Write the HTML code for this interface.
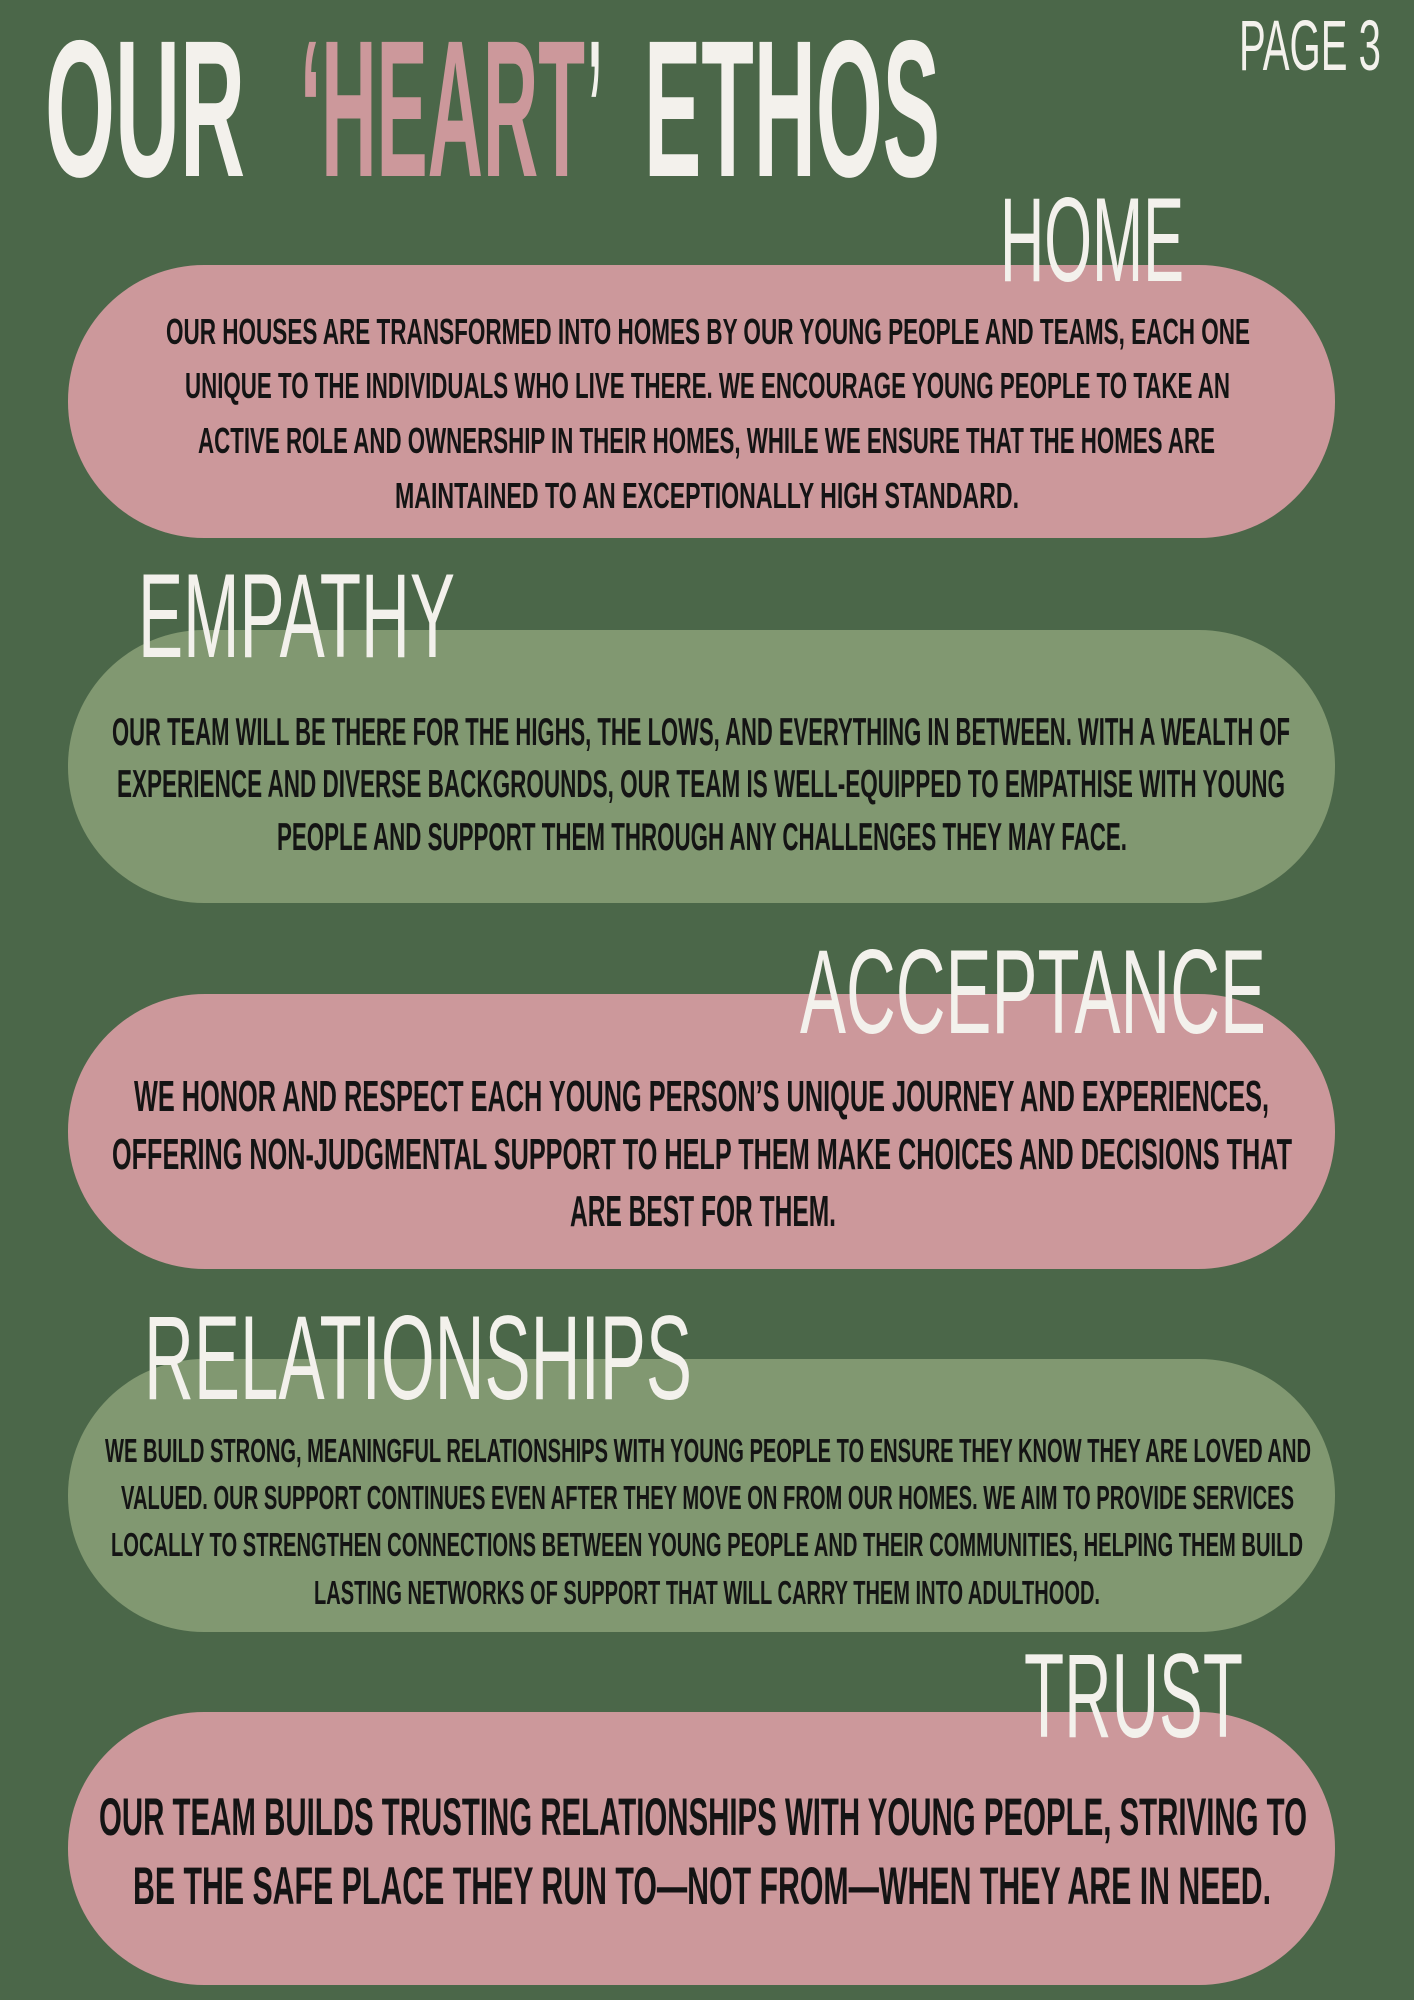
<!DOCTYPE html>
<html><head><meta charset="utf-8"><style>
html,body{margin:0;padding:0;background:#4b6749;}
svg{display:block}
text{font-family:"Liberation Sans Narrow","Liberation Sans",sans-serif;font-weight:bold;}
.h{fill:#f3f1ec}
.s{font-weight:normal}
.b{fill:#141414}
</style></head><body>
<svg width="1414" height="2000" viewBox="0 0 1414 2000" xmlns="http://www.w3.org/2000/svg">
<rect width="1414" height="2000" fill="#4b6749"/>
<rect x="68" y="265" width="1267" height="273" rx="136" fill="#cc989b"/>
<rect x="68" y="630" width="1267" height="273" rx="136" fill="#819871"/>
<rect x="68" y="994" width="1267" height="275" rx="137" fill="#cc989b"/>
<rect x="68" y="1359" width="1267" height="273" rx="136" fill="#819871"/>
<rect x="68" y="1712" width="1267" height="273" rx="136" fill="#cc989b"/>

<text class="h" x="45" y="176" font-size="195" textLength="200" lengthAdjust="spacingAndGlyphs">OUR</text>
<text x="300" y="176" font-size="195" fill="#cc989b" textLength="285" lengthAdjust="spacingAndGlyphs">‘HEART</text>
<text class="h" x="588" y="176" font-size="195" textLength="14" lengthAdjust="spacingAndGlyphs">’</text>
<text class="h" x="644" y="176" font-size="195" textLength="296" lengthAdjust="spacingAndGlyphs">ETHOS</text>
<text class="h s" x="1239" y="70" font-size="71" textLength="142" lengthAdjust="spacingAndGlyphs">PAGE 3</text>

<text class="h s" x="1000" y="281" font-size="120" textLength="184" lengthAdjust="spacingAndGlyphs">HOME</text>
<text class="h s" x="138" y="657" font-size="120" textLength="317" lengthAdjust="spacingAndGlyphs">EMPATHY</text>
<text class="h s" x="800" y="1033" font-size="120" textLength="466" lengthAdjust="spacingAndGlyphs">ACCEPTANCE</text>
<text class="h s" x="144" y="1399" font-size="120" textLength="548" lengthAdjust="spacingAndGlyphs">RELATIONSHIPS</text>
<text class="h s" x="1024" y="1737" font-size="120" textLength="219" lengthAdjust="spacingAndGlyphs">TRUST</text>

<g class="b">
<text class="b" x="166" y="344" font-size="36" textLength="1084" lengthAdjust="spacingAndGlyphs">OUR HOUSES ARE TRANSFORMED INTO HOMES BY OUR YOUNG PEOPLE AND TEAMS, EACH ONE</text>
<text class="b" x="185" y="398" font-size="36" textLength="1045" lengthAdjust="spacingAndGlyphs">UNIQUE TO THE INDIVIDUALS WHO LIVE THERE. WE ENCOURAGE YOUNG PEOPLE TO TAKE AN</text>
<text class="b" x="198" y="453" font-size="36" textLength="1017" lengthAdjust="spacingAndGlyphs">ACTIVE ROLE AND OWNERSHIP IN THEIR HOMES, WHILE WE ENSURE THAT THE HOMES ARE</text>
<text class="b" x="395" y="508" font-size="36" textLength="624" lengthAdjust="spacingAndGlyphs">MAINTAINED TO AN EXCEPTIONALLY HIGH STANDARD.</text>

<text class="b" x="112" y="745" font-size="39" textLength="1178" lengthAdjust="spacingAndGlyphs">OUR TEAM WILL BE THERE FOR THE HIGHS, THE LOWS, AND EVERYTHING IN BETWEEN. WITH A WEALTH OF</text>
<text class="b" x="117" y="797" font-size="39" textLength="1168" lengthAdjust="spacingAndGlyphs">EXPERIENCE AND DIVERSE BACKGROUNDS, OUR TEAM IS WELL-EQUIPPED TO EMPATHISE WITH YOUNG</text>
<text class="b" x="277" y="850" font-size="39" textLength="850" lengthAdjust="spacingAndGlyphs">PEOPLE AND SUPPORT THEM THROUGH ANY CHALLENGES THEY MAY FACE.</text>

<text class="b" x="134" y="1111" font-size="44" textLength="1135" lengthAdjust="spacingAndGlyphs">WE HONOR AND RESPECT EACH YOUNG PERSON’S UNIQUE JOURNEY AND EXPERIENCES,</text>
<text class="b" x="112" y="1169" font-size="44" textLength="1180" lengthAdjust="spacingAndGlyphs">OFFERING NON-JUDGMENTAL SUPPORT TO HELP THEM MAKE CHOICES AND DECISIONS THAT</text>
<text class="b" x="570" y="1226" font-size="44" textLength="266" lengthAdjust="spacingAndGlyphs">ARE BEST FOR THEM.</text>

<text class="b" x="105" y="1462" font-size="33" textLength="1206" lengthAdjust="spacingAndGlyphs">WE BUILD STRONG, MEANINGFUL RELATIONSHIPS WITH YOUNG PEOPLE TO ENSURE THEY KNOW THEY ARE LOVED AND</text>
<text class="b" x="121" y="1509" font-size="33" textLength="1173" lengthAdjust="spacingAndGlyphs">VALUED. OUR SUPPORT CONTINUES EVEN AFTER THEY MOVE ON FROM OUR HOMES. WE AIM TO PROVIDE SERVICES</text>
<text class="b" x="111" y="1556" font-size="33" textLength="1192" lengthAdjust="spacingAndGlyphs">LOCALLY TO STRENGTHEN CONNECTIONS BETWEEN YOUNG PEOPLE AND THEIR COMMUNITIES, HELPING THEM BUILD</text>
<text class="b" x="314" y="1604" font-size="33" textLength="786" lengthAdjust="spacingAndGlyphs">LASTING NETWORKS OF SUPPORT THAT WILL CARRY THEM INTO ADULTHOOD.</text>

<text class="b" x="99" y="1835" font-size="53" textLength="1208" lengthAdjust="spacingAndGlyphs">OUR TEAM BUILDS TRUSTING RELATIONSHIPS WITH YOUNG PEOPLE, STRIVING TO</text>
<text class="b" x="133" y="1904" font-size="53" textLength="1138" lengthAdjust="spacingAndGlyphs">BE THE SAFE PLACE THEY RUN TO—NOT FROM—WHEN THEY ARE IN NEED.</text>
</g>
</svg>
</body></html>
